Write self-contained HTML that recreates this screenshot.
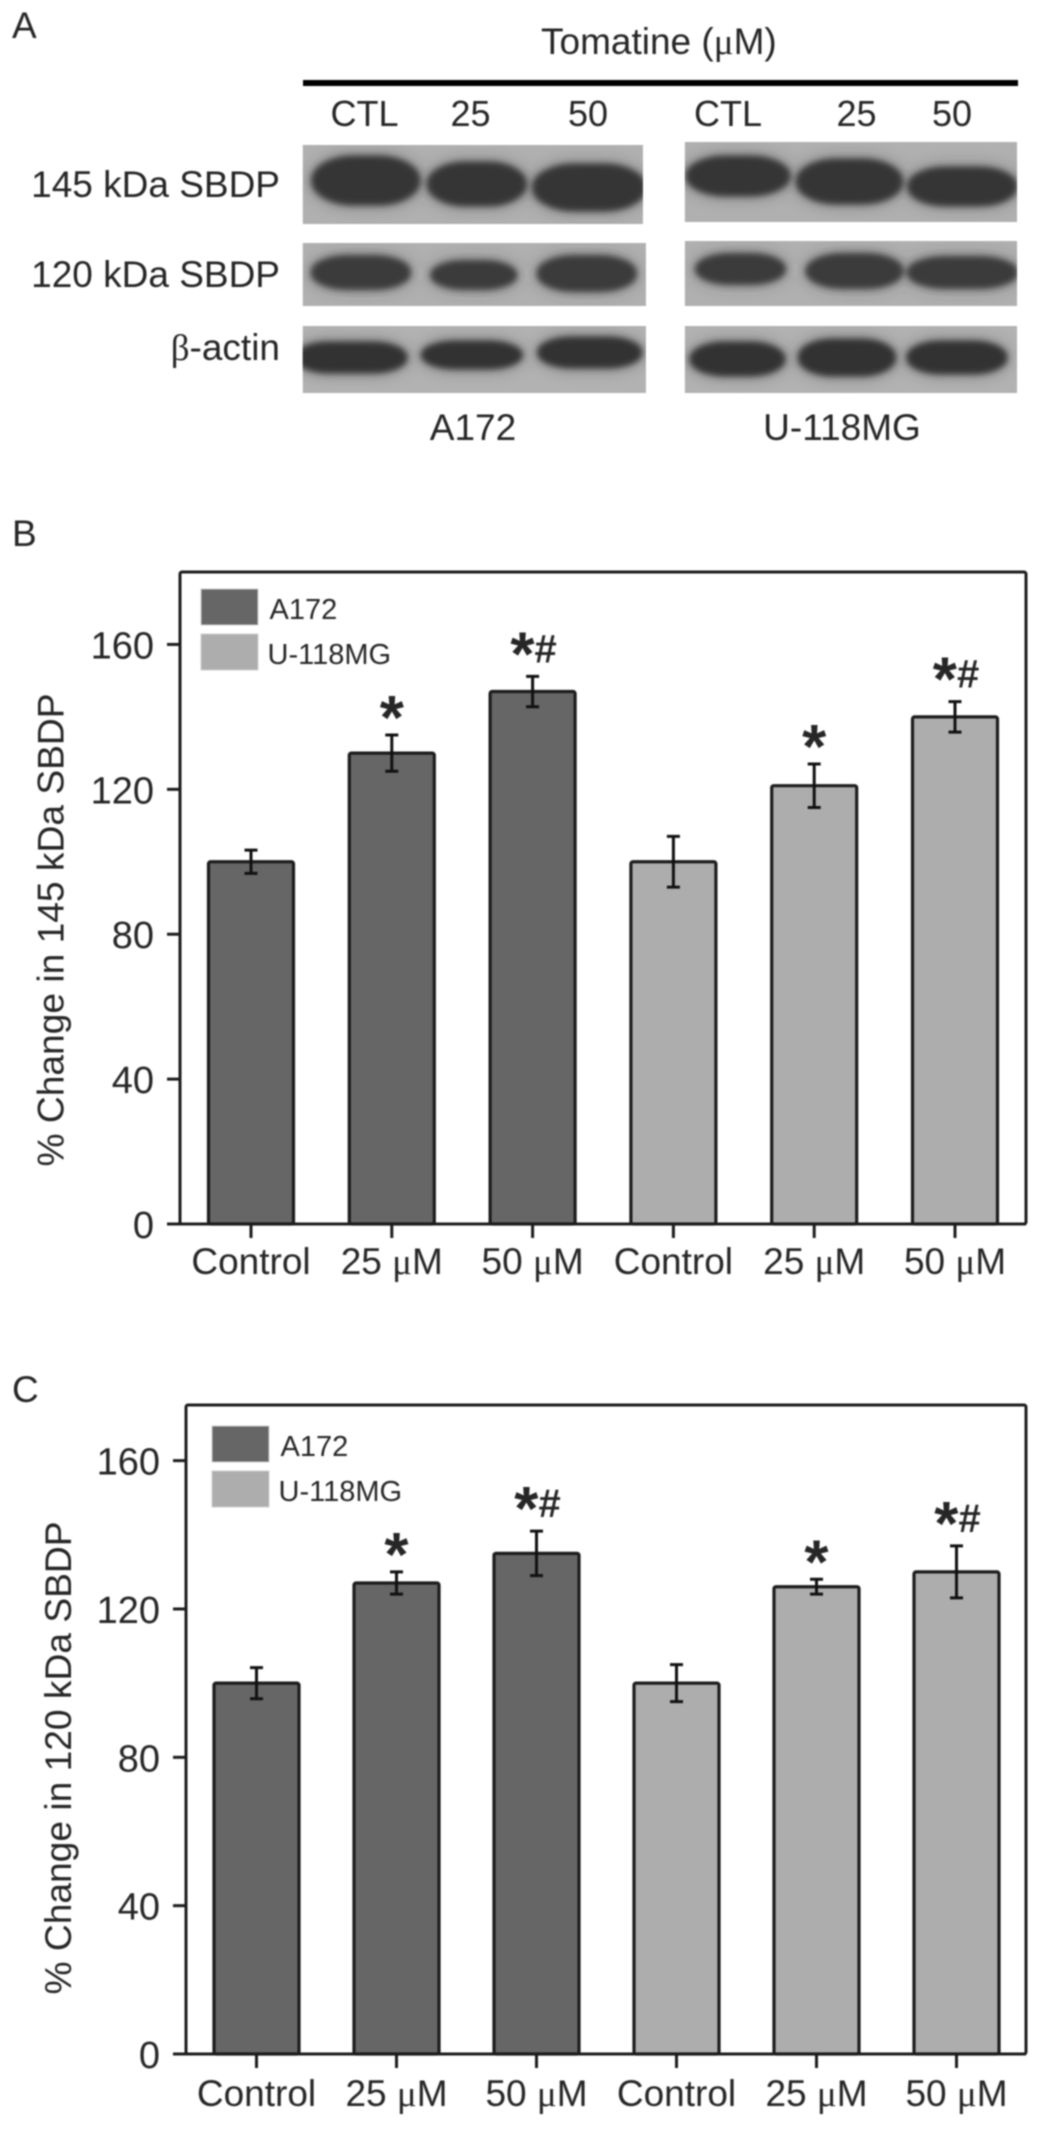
<!DOCTYPE html>
<html lang="en">
<head>
<meta charset="utf-8">
<title>Tomatine SBDP figure</title>
<style>
  html, body { margin: 0; padding: 0; background: #fff; }
  #figure { display: block; width: 1040px; height: 2129px; filter: blur(0.7px); }
  text { font-family: "Liberation Sans", sans-serif; fill: #262626; }
  .mu { font-family: "Liberation Serif", serif; }
</style>
</head>
<body>
<svg id="figure" xmlns="http://www.w3.org/2000/svg" width="1040" height="2129" viewBox="0 0 1040 2129">
  <defs>
    <filter id="band-blur" x="-30%" y="-60%" width="160%" height="220%">
      <feGaussianBlur in="SourceGraphic" stdDeviation="9" result="halo"/>
      <feComponentTransfer in="halo" result="faint"><feFuncA type="linear" slope="0.3"/></feComponentTransfer>
      <feGaussianBlur in="SourceGraphic" stdDeviation="3.2" result="core"/>
      <feMerge><feMergeNode in="faint"/><feMergeNode in="core"/></feMerge>
    </filter>
    <clipPath id="c1"><rect x="303" y="145" width="342" height="79"/></clipPath>
    <clipPath id="c2"><rect x="687" y="142" width="334" height="80"/></clipPath>
    <clipPath id="c3"><rect x="303" y="243" width="345" height="63"/></clipPath>
    <clipPath id="c4"><rect x="687" y="241" width="334" height="65"/></clipPath>
    <clipPath id="c5"><rect x="303" y="326" width="345" height="67"/></clipPath>
    <clipPath id="c6"><rect x="687" y="326" width="334" height="67"/></clipPath>
  </defs>

  <g>
    <text x="12" y="38" font-size="37">A</text>
    <text x="541" y="54" font-size="37">Tomatine (<tspan class="mu">μ</tspan>M)</text>
    <rect x="303" y="80" width="715" height="6" fill="#000"/>

    <text x="364.5" y="126" font-size="36" text-anchor="middle">CTL</text>
    <text x="470.5" y="126" font-size="36" text-anchor="middle">25</text>
    <text x="588" y="126" font-size="36" text-anchor="middle">50</text>
    <text x="728" y="126" font-size="36" text-anchor="middle">CTL</text>
    <text x="856.5" y="126" font-size="36" text-anchor="middle">25</text>
    <text x="952" y="126" font-size="36" text-anchor="middle">50</text>

    <text x="280" y="197" font-size="37" text-anchor="end">145 kDa SBDP</text>
    <text x="280" y="287" font-size="37" text-anchor="end">120 kDa SBDP</text>
    <text x="280" y="360" font-size="37" text-anchor="end"><tspan class="mu">β</tspan>-actin</text>

    <g transform="translate(1.2 0) scale(0.995 1)">
      <g clip-path="url(#c1)">
        <rect x="303" y="145" width="342" height="79" fill="#b0b0b0"/>
        <g fill="#363636" stroke="#363636" stroke-width="3" filter="url(#band-blur)">
          <rect x="313" y="157" width="107" height="47" rx="42" ry="23"/>
          <rect x="429" y="163" width="98" height="42" rx="38" ry="21"/>
          <rect x="535" y="165" width="112" height="45" rx="42" ry="22"/>
        </g>
      </g>
      <g clip-path="url(#c2)">
        <rect x="687" y="142" width="334" height="80" fill="#b0b0b0"/>
        <g fill="#363636" stroke="#363636" stroke-width="3" filter="url(#band-blur)">
          <rect x="689" y="157" width="103" height="38" rx="40" ry="19"/>
          <rect x="800" y="160" width="105" height="43" rx="40" ry="21"/>
          <rect x="912" y="168" width="108" height="37" rx="38" ry="18"/>
        </g>
      </g>
      <g clip-path="url(#c3)">
        <rect x="303" y="243" width="345" height="63" fill="#b0b0b0"/>
        <g fill="#3a3a3a" stroke="#3a3a3a" stroke-width="4" filter="url(#band-blur)">
          <rect x="313" y="257" width="97" height="31" rx="36" ry="15"/>
          <rect x="433" y="262" width="84" height="26" rx="32" ry="13"/>
          <rect x="540" y="257" width="97" height="33" rx="36" ry="16"/>
        </g>
      </g>
      <g clip-path="url(#c4)">
        <rect x="687" y="241" width="334" height="65" fill="#b0b0b0"/>
        <g fill="#3a3a3a" stroke="#3a3a3a" stroke-width="4" filter="url(#band-blur)">
          <rect x="699" y="255" width="88" height="28" rx="34" ry="14"/>
          <rect x="810" y="255" width="95" height="32" rx="36" ry="16"/>
          <rect x="912" y="258" width="108" height="29" rx="38" ry="14"/>
        </g>
      </g>
      <g clip-path="url(#c5)">
        <rect x="303" y="326" width="345" height="67" fill="#b2b2b2"/>
        <g fill="#303030" stroke="#303030" stroke-width="3" filter="url(#band-blur)">
          <rect x="296" y="343" width="111" height="29" rx="34" ry="14"/>
          <rect x="423" y="342" width="100" height="26" rx="34" ry="13"/>
          <rect x="540" y="338" width="103" height="29" rx="34" ry="14"/>
        </g>
      </g>
      <g clip-path="url(#c6)">
        <rect x="687" y="326" width="334" height="67" fill="#b2b2b2"/>
        <g fill="#303030" stroke="#303030" stroke-width="3" filter="url(#band-blur)">
          <rect x="693" y="343" width="94" height="32" rx="34" ry="16"/>
          <rect x="802" y="340" width="96" height="35" rx="34" ry="17"/>
          <rect x="911" y="342" width="99" height="31" rx="34" ry="15"/>
        </g>
      </g>
    </g>

    <text x="473" y="440" font-size="37" text-anchor="middle">A172</text>
    <text x="842" y="440" font-size="37" text-anchor="middle">U-118MG</text>
  </g>

  <g id="panel-b"></g>
  <g id="panel-c"></g>
</svg>

<script>
// Shared chart data
const categories = ["Control", "25 µM", "50 µM", "Control", "25 µM", "50 µM"];
const seriesLabels = ["A172", "U-118MG"];
const yTicks = [0, 40, 80, 120, 160];
const significance = ["", "*", "*#", "", "*", "*#"];

// Panel B: % change in 145 kDa SBDP
const valuesB = [100, 130, 147, 100, 121, 140];
const errorsB = [3.2, 5, 4.2, 7, 6, 4.2];

// Panel C: % change in 120 kDa SBDP
const valuesC = [100, 127, 135, 100, 126, 130];
const errorsC = [4.2, 3, 6, 5, 2, 7];

const SVG_NS = "http://www.w3.org/2000/svg";
const COLORS = ["#666666", "#adadad"];
const INK = "#1c1c1c";

function make(tag, attrs, parent) {
  const el = document.createElementNS(SVG_NS, tag);
  for (const k in attrs) el.setAttribute(k, attrs[k]);
  parent.appendChild(el);
  return el;
}

function drawChart(root, cfg, values, errors) {
  const yScale = v => cfg.y0 - (v / cfg.yMax) * (cfg.y0 - cfg.top);
  const xScale = i => cfg.x0 + i * cfg.step;

  // Plot frame
  const frame = make("rect", { x: cfg.left, y: cfg.top, width: cfg.right - cfg.left, height: cfg.y0 - cfg.top, rx: 2, fill: "#fff", stroke: INK, "stroke-width": 3 }, root);
  
  

  // Bars and error bars
  values.forEach((v, i) => {
    const cx = xScale(i);
    const group = i < 3 ? 0 : 1;
    const bar = make("rect", { x: cx - cfg.barW / 2, y: yScale(v), width: cfg.barW, height: cfg.y0 - yScale(v), rx: 2, fill: COLORS[group], stroke: INK, "stroke-width": 3.2 }, root);
    
    

    const yHi = yScale(v + errors[i]);
    const yLo = yScale(v - errors[i]);
    const err = make("path", {
      d: "M" + (cx - 6.5) + " " + yHi + "H" + (cx + 6.5) + "M" + cx + " " + yHi + "V" + yLo + "M" + (cx - 6.5) + " " + yLo + "H" + (cx + 6.5),
      fill: "none", stroke: "#111", "stroke-width": 3
    }, root);
    
    

    if (significance[i]) {
      const isDouble = significance[i].length > 1;
      const label = make("text", {
        x: cx + (isDouble ? 1 : 0), y: yHi + (isDouble ? -1 : 4),
        "font-size": 62, "font-weight": "bold", "text-anchor": "middle"
      }, root);
      
      
      const star = make("tspan", {}, label);
      star.textContent = "*";
      if (isDouble) {
        const hash = make("tspan", { "font-size": 40, dy: -13 }, label);
        hash.textContent = "#";
      }
    }
  });

  // X axis line
  const xAxis = make("line", { x1: cfg.left - 13, x2: cfg.right, y1: cfg.y0, y2: cfg.y0, stroke: INK, "stroke-width": 3 }, root);
  
  

  // X ticks and labels
  categories.forEach((c, i) => {
    const cx = xScale(i);
    const tick = make("line", { x1: cx, x2: cx, y1: cfg.y0, y2: cfg.y0 + 14, stroke: INK, "stroke-width": 3 }, root);
    
    

    const label = make("text", { x: cx, y: cfg.y0 + cfg.labelOffset, "font-size": 37, "text-anchor": "middle" }, root);
    
    
    const parts = c.split("µ");
    if (parts.length > 1) {
      const a = make("tspan", {}, label);
      a.textContent = parts[0];
      const m = make("tspan", { class: "mu" }, label);
      m.textContent = "μ";
      const b = make("tspan", {}, label);
      b.textContent = parts[1];
    } else {
      label.textContent = c;
    }
  });

  // Y ticks and labels
  yTicks.forEach(t => {
    const y = yScale(t);
    const tick = make("line", { x1: cfg.left - 13, x2: cfg.left, y1: y, y2: y, stroke: INK, "stroke-width": 3 }, root);
    
    

    const label = make("text", { x: cfg.left - 26, y: y + 14, "font-size": 38, "text-anchor": "end" }, root);
    
    
    label.textContent = String(t);
  });

  // Y axis title
  const title = make("text", {
    transform: "translate(" + cfg.titleX + " " + cfg.titleY + ") rotate(-90)",
    "font-size": 37, "text-anchor": "middle", textLength: 473, lengthAdjust: "spacingAndGlyphs"
  }, root);
  
  
  title.textContent = cfg.title;

  // Panel letter
  const letter = make("text", { x: 12, y: cfg.letterY, "font-size": 37 }, root);
  
  
  letter.textContent = cfg.letter;

  // Legend
  seriesLabels.forEach((s, i) => {
    const swatch = make("rect", { x: cfg.legendX, y: cfg.legendY + i * cfg.legendStep, width: 57, height: 36, fill: COLORS[i], stroke: "#cfcfcf", "stroke-width": 1 }, root);
    
    

    const text = make("text", { x: cfg.legendX + (i === 0 ? 68.5 : 66.5), y: cfg.legendY + i * cfg.legendStep + 30, "font-size": 29 }, root);
    
    
    text.textContent = s;
  });
}

drawChart(document.getElementById("panel-b"), {
  left: 180, right: 1026, top: 572, y0: 1224, yMax: 180,
  x0: 251, step: 140.8, barW: 85, labelOffset: 50,
  titleX: 63.5, titleY: 930, title: "% Change in 145 kDa SBDP",
  letter: "B", letterY: 546, legendX: 201, legendY: 589, legendStep: 45
}, valuesB, errorsB);

drawChart(document.getElementById("panel-c"), {
  left: 186, right: 1026, top: 1405, y0: 2054, yMax: 175,
  x0: 256.5, step: 140, barW: 85, labelOffset: 52,
  titleX: 71, titleY: 1758, title: "% Change in 120 kDa SBDP",
  letter: "C", letterY: 1402, legendX: 212, legendY: 1426, legendStep: 45
}, valuesC, errorsC);
</script>
</body>
</html>
